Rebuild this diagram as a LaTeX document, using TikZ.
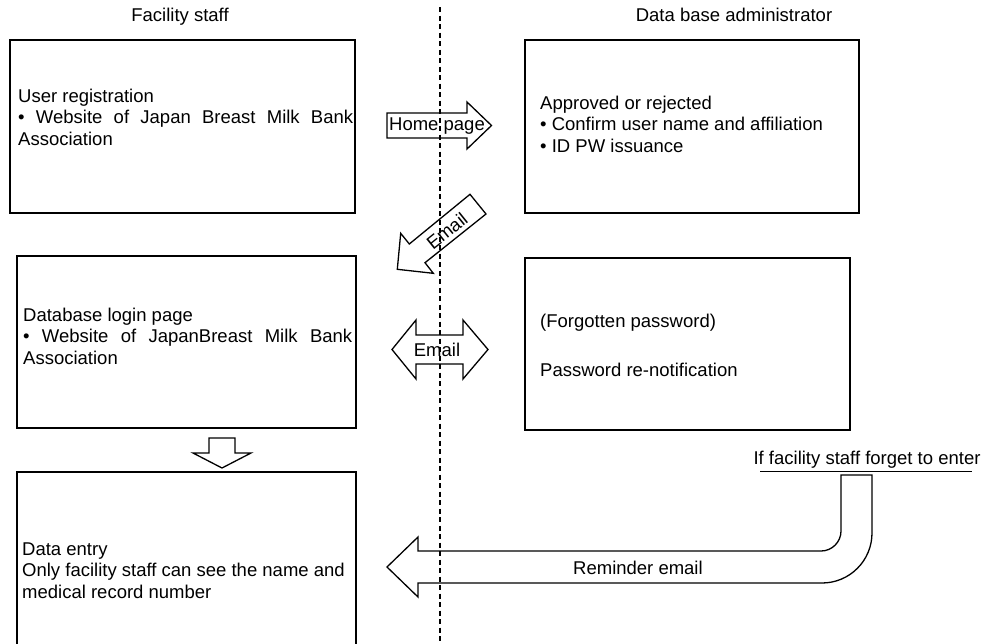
\documentclass[tikz,border=0pt]{standalone}
\usepackage{fontspec}
\setmainfont{Liberation Sans}
\newcommand\stacklines[1]{\vtop{\baselineskip=21.5pt\lineskiplimit=-10pt\halign{##\hfil\cr#1\crcr}}}
\tikzset{
  panel/.style={draw, line width=1.4pt, inner sep=0pt},
  blockarrow/.style={draw, line width=1.3pt, line join=miter},
  label/.style={inner sep=0pt, font=\fontsize{18.5pt}{21.5pt}\selectfont},
  divider/.style={line width=1.6pt, dash pattern=on 5pt off 3.5pt}
}
\begin{document}
\begin{tikzpicture}[x=1pt, y=-1pt]
\useasboundingbox (0,0) rectangle (985,643);

% column headings
\node[label, anchor=base] (hstaff) at (180,21) {Facility staff};
\node[label, anchor=base] (hadmin) at (734,21) {Data base administrator};

% panels
\node[panel, minimum width=345pt, minimum height=173pt] (reg) at (182.5,126.5) {};
\node[panel, minimum width=334pt, minimum height=173pt] (appr) at (692,126.5) {};
\node[panel, minimum width=339pt, minimum height=172pt] (login) at (186.5,342) {};
\node[panel, minimum width=325pt, minimum height=172pt] (forgot) at (687.5,344) {};
\node[panel, minimum width=339pt, minimum height=188pt] (entry) at (186.5,566) {};

% panel texts
\node[label, anchor=base west] (regtext) at (18,102)
  {\stacklines{User registration\cr\makebox[335pt][s]{• Website of Japan Breast Milk Bank}\cr Association}};
\node[label, anchor=base west] (apprtext) at (540,109)
  {\stacklines{Approved or rejected\cr • Confirm user name and affiliation\cr • ID PW issuance}};
\node[label, anchor=base west] (logintext) at (23,321)
  {\stacklines{Database login page\cr\makebox[329pt][s]{• Website of JapanBreast Milk Bank}\cr Association}};
\node[label, anchor=base west] (forgottext) at (540,327) {(Forgotten password)};
\node[label, anchor=base west] (renotify) at (540,376) {Password re-notification};
\node[label, anchor=base west] (entrytext) at (22,555)
  {\stacklines{Data entry\cr Only facility staff can see the name and\cr medical record number}};

% block arrows
\draw[blockarrow] (387,113) -- (467,113) -- (467,102) -- (491.5,125.5) -- (467,149) -- (467,138) -- (387,138) -- cycle;
\node[label] (home) at (437,126) {Home page};

\draw[blockarrow] (470,194.3) -- (486,214) -- (425,262.7) -- (433.3,273.3) -- (397.3,269.3) -- (400.7,233.3) -- (409.3,244) -- cycle;
\node[label, rotate=38.8] (mail1) at (447,231) {Email};

\draw[blockarrow] (392,349.5) -- (416,320) -- (416,335) -- (463,335) -- (463,320) -- (488,349.5) -- (463,379) -- (463,364) -- (416,364) -- (416,379) -- cycle;
\node[label] (mail2) at (437,350) {Email};

\draw[blockarrow] (209,438) -- (235,438) -- (235,453) -- (251,453) -- (222,468) -- (193,453) -- (209,453) -- cycle;

\draw[blockarrow] (387,567) -- (418,537) -- (418,551) -- (821,551)
  .. controls (832,551) and (841,542) .. (841,531) -- (841,475) -- (872,475) -- (872,533)
  .. controls (872,560.6) and (849.6,583) .. (822,583) -- (418,583) -- (418,597) -- cycle;
\node[label, anchor=base west] (remind) at (573,574) {Reminder email};

% condition note
\node[label, anchor=base] (forget) at (867,464) {If facility staff forget to enter};
\coordinate (ulA) at (760,471);
\coordinate (ulB) at (972,471);
\draw[line width=1pt] (ulA) -- (ulB);

% boundary between the two roles
\coordinate (divtop) at (440,7);
\coordinate (divbot) at (440,650);
\draw[divider] (divtop) -- (divbot);
\end{tikzpicture}
\end{document}
